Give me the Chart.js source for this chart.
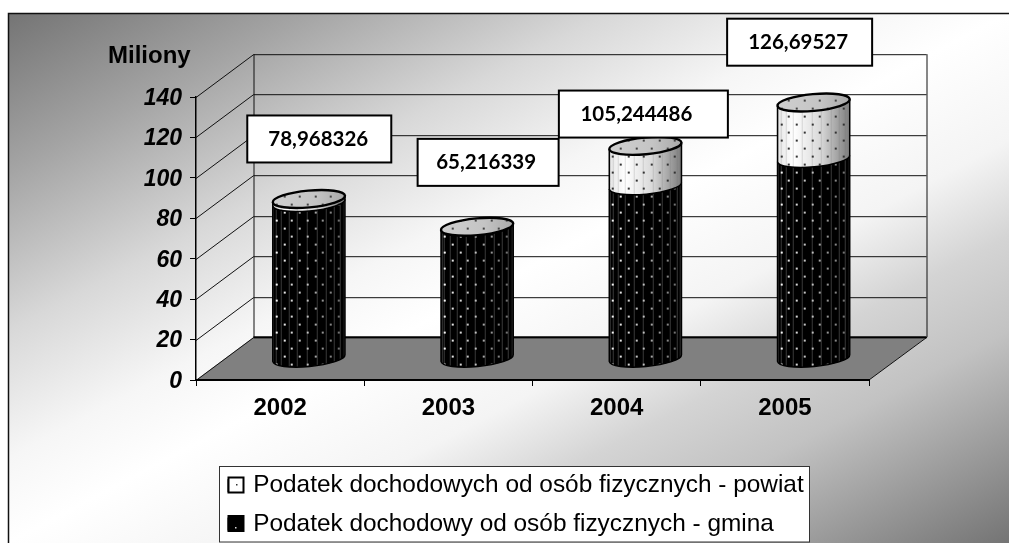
<!DOCTYPE html>
<html>
<head>
<meta charset="utf-8">
<style>html,body{margin:0;padding:0;background:#fff}canvas{display:block}</style>
<script src="https://cdn.jsdelivr.net/npm/chart.js@4"></script>
</head>
<body>
<canvas id="c" width="1009" height="543"></canvas>
<script>
const categories = ["2002", "2003", "2004", "2005"];
const gmina = [77.2, 65.216339, 85.5, 99.0];
const powiat = [1.768326, 0, 19.744486, 27.69527];
const totalLabels = ["78,968326", "65,216339", "105,244486", "126,69527"];
const seriesNames = ["Podatek dochodowy od osób fizycznych - gmina", "Podatek dochodowych od osób fizycznych - powiat"];
const axisUnit = "Miliony";

// layout of the hand-placed callouts: offset from the bar top, box width, text shift
const calloutLayout = [
  {dx: 10.4, dy: -60, w: 144, tx: -1},
  {dx: 11, dy: -64.4, w: 141, tx: -2},
  {dx: -2, dy: -31.8, w: 169, tx: -7},
  {dx: -14, dy: -60.3, w: 145, tx: -1.5}
];
const DEPTH = {x: 57.5, y: -42.8};
const TILT = -5.3 * Math.PI / 180;
const RY = 8.4;
const shift = {x: DEPTH.x / 2, y: DEPTH.y / 2};

function ends(cx, y, rx) {
  return {lx: cx - rx * Math.cos(TILT), ly: y - rx * Math.sin(TILT), rx: cx + rx * Math.cos(TILT), ry: y + rx * Math.sin(TILT)};
}
function bodyPath(ctx, cx, yTop, yBase, rx) {
  const t = ends(cx, yTop, rx);
  ctx.beginPath();
  ctx.moveTo(t.lx, t.ly);
  ctx.lineTo(t.rx, t.ry);
  ctx.ellipse(cx, yBase, rx, RY, TILT, 0, Math.PI, false);
  ctx.closePath();
}
function dots(ctx, cx, rx, y0, y1, color) {
  const left = cx - rx + 4;
  const first = Math.floor(y0 / 8) - 1, last = Math.ceil(y1 / 8) + 1;
  for (let r = first; r <= last; r++) {
    for (let k = (r % 2 === 0 ? 0 : 1); k * 7.75 < 2 * rx; k += 2) {
      const x = left + k * 7.75;
      ctx.fillStyle = color((x - cx + rx) / (2 * rx));
      ctx.fillRect(Math.round(x) - 1, r * 8 + 1, 2, 2);
    }
  }
}
function streaks(ctx, cx, rx, y0, y1, style) {
  ctx.lineWidth = 1;
  for (let th = 0.16; th < Math.PI; th += 0.27) {
    const x = Math.round(cx - rx * Math.cos(th)) + 0.5;
    ctx.strokeStyle = style;
    ctx.beginPath(); ctx.moveTo(x, y0); ctx.lineTo(x, y1); ctx.stroke();
  }
}
function paintSegment(ctx, el, dark) {
  const cx = el.x, rx = el.width / 2;
  ctx.save();
  bodyPath(ctx, cx, el.y, el.base, rx);
  ctx.save();
  ctx.clip();
  if (dark) {
    ctx.fillStyle = "#000";
  } else {
    const g = ctx.createLinearGradient(cx - rx, 0, cx + rx, 0);
    g.addColorStop(0, "#e4e4e4"); g.addColorStop(0.22, "#ffffff");
    g.addColorStop(0.6, "#d8d8d8"); g.addColorStop(1, "#7c7c7c");
    ctx.fillStyle = g;
  }
  ctx.fillRect(cx - rx - 2, el.y - 20, 2 * rx + 4, el.base - el.y + 50);
  streaks(ctx, cx, rx, el.y - 10, el.base + 12, dark ? "rgba(170,170,170,0.34)" : "rgba(110,110,110,0.22)");
  dots(ctx, cx, rx, el.y - 10, el.base + 12, dark
    ? f => "rgba(255,255,255," + (1 - 0.6 * f).toFixed(2) + ")"
    : () => "#333");
  ctx.restore();
  // outline: sides and lower rim
  const t = ends(cx, el.y, rx);
  ctx.strokeStyle = "#000";
  ctx.lineWidth = 1.5;
  ctx.beginPath();
  ctx.moveTo(t.rx, t.ry);
  ctx.ellipse(cx, el.base, rx, RY, TILT, 0, Math.PI, false);
  ctx.lineTo(t.lx, t.ly);
  ctx.stroke();
  ctx.restore();
}
function paintTop(ctx, el) {
  const cx = el.x, rx = el.width / 2;
  ctx.save();
  ctx.beginPath();
  ctx.ellipse(cx, el.y, rx, RY, TILT, 0, Math.PI * 2);
  const g = ctx.createLinearGradient(cx - rx, 0, cx + rx, 0);
  g.addColorStop(0, "#cfcfcf"); g.addColorStop(0.6, "#c4c4c4"); g.addColorStop(1, "#a8a8a8");
  ctx.fillStyle = g;
  ctx.fill();
  ctx.save(); ctx.clip();
  dots(ctx, cx, rx, el.y - 12, el.y + 12, () => "#444");
  ctx.restore();
  ctx.lineWidth = 2.4;
  ctx.strokeStyle = "#000";
  ctx.stroke();
  ctx.restore();
}

const scene = {
  id: "scene",
  afterLayout(chart) {
    const lg = chart.legend;
    lg.left = 214; lg.top = 459.5; lg.right = 809; lg.bottom = 700;
    chart.scales.y.getLabelItems(chart.chartArea).forEach(it => { it.options.translation[1] += 1.5; });
  },
  beforeDraw(chart) {
    const {ctx, chartArea: a, width: W, height: H, scales: {y}} = chart;
    ctx.save();
    // panel
    const fw = W - 8, fh = H - 13, k = 2 * fw * fh / (fw * fw + fh * fh);
    const g = ctx.createLinearGradient(8, 13, 8 + k * fh, 13 + k * fw);
    [[0, "#747474"], [0.15, "#a4a4a4"], [0.3, "#d8d8d8"], [0.42, "#f6f6f6"], [0.5, "#ffffff"],
     [0.62, "#f4f4f4"], [0.71, "#d4d4d4"], [0.8, "#c2c2c2"], [1, "#747474"]]
      .forEach(s => g.addColorStop(s[0], s[1]));
    ctx.fillStyle = g;
    ctx.fillRect(8, 13, fw, fh);
    ctx.strokeStyle = "#111"; ctx.lineWidth = 1.5;
    ctx.beginPath(); ctx.moveTo(8.5, H); ctx.lineTo(8.5, 13.5); ctx.lineTo(W, 13.5); ctx.stroke();
    // floor
    const y0 = y.getPixelForValue(0), d = DEPTH;
    ctx.fillStyle = "#808080";
    ctx.beginPath();
    ctx.moveTo(a.left, y0); ctx.lineTo(a.right, y0);
    ctx.lineTo(a.right + d.x, y0 + d.y); ctx.lineTo(a.left + d.x, y0 + d.y);
    ctx.closePath(); ctx.fill();
    // gridlines on side and back walls
    ctx.strokeStyle = "#111"; ctx.lineWidth = 1;
    y.ticks.forEach(t => {
      const p = Math.round(y.getPixelForValue(t.value)) + 0.5;
      ctx.beginPath();
      ctx.moveTo(a.left, p); ctx.lineTo(a.left + d.x, p + d.y); ctx.lineTo(a.right + d.x, p + d.y);
      ctx.stroke();
    });
    const back = a.left + d.x, top = y.getPixelForValue(140) + d.y;
    ctx.beginPath();
    ctx.moveTo(back + .5, top); ctx.lineTo(back + .5, y0 + d.y);
    ctx.moveTo(a.right + d.x + .5, top); ctx.lineTo(a.right + d.x + .5, y0 + d.y);
    ctx.lineTo(a.right, y0);
    ctx.stroke();
    ctx.lineWidth = 2;
    ctx.strokeStyle = "#000";
    ctx.beginPath(); ctx.moveTo(a.left + d.x, y0 + d.y); ctx.lineTo(a.right + d.x, y0 + d.y); ctx.stroke();
    // legend panel
    ctx.fillStyle = "#fff"; ctx.fillRect(219.5, 466.5, 590, 75.5);
    ctx.strokeStyle = "#333"; ctx.lineWidth = 1;
    ctx.strokeRect(219.5, 466.5, 590, 75.5);
    // unit
    ctx.fillStyle = "#000";
    ctx.font = "bold 24px 'Liberation Sans'";
    ctx.textAlign = "left"; ctx.textBaseline = "middle";
    ctx.fillText(axisUnit, 108, 56);
    ctx.restore();
  },
  beforeDatasetDraw(chart, args) {
    const ctx = chart.ctx, meta = args.meta;
    ctx.save();
    ctx.translate(shift.x, shift.y);
    ctx.beginPath();
    meta.data.forEach(el => {
      const rx = el.width / 2;
      if (el.base - el.y < 0.01) return;
      const t = ends(el.x, el.y, rx);
      ctx.moveTo(t.lx, t.ly); ctx.lineTo(t.rx, t.ry);
      ctx.ellipse(el.x, el.base, rx, RY, TILT, 0, Math.PI, false);
      ctx.closePath();
    });
    ctx.clip();
  },
  afterDatasetDraw(chart) { chart.ctx.restore(); },
  afterDatasetsDraw(chart) {
    const ctx = chart.ctx;
    const low = chart.getDatasetMeta(0), high = chart.getDatasetMeta(1);
    ctx.save();
    ctx.translate(shift.x, shift.y);
    categories.forEach((_, i) => {
      paintSegment(ctx, low.data[i], true);
      const h = high.data[i];
      const hasTop = powiat[i] > 0;
      if (hasTop) paintSegment(ctx, h, false);
      paintTop(ctx, hasTop ? h : low.data[i]);
    });
    ctx.restore();
    // callouts
    ctx.save();
    ctx.font = "bold 20.5px Lato";
    ctx.textAlign = "center"; ctx.textBaseline = "middle";
    categories.forEach((_, i) => {
      const top = powiat[i] > 0 ? high.data[i] : low.data[i];
      const b = calloutLayout[i];
      const cx = top.x + shift.x + b.dx, cy = top.y + shift.y + b.dy, h = 47;
      ctx.fillStyle = "#fff";
      ctx.fillRect(cx - b.w / 2, cy - h / 2, b.w, h);
      ctx.strokeStyle = "#000"; ctx.lineWidth = 2;
      ctx.strokeRect(cx - b.w / 2, cy - h / 2, b.w, h);
      ctx.fillStyle = "#000";
      ctx.fillText(totalLabels[i], cx + b.tx, cy);
    });
    ctx.restore();
  },
  afterDraw(chart) {
    // legend swatches with their single pattern dot
    const ctx = chart.ctx;
    ctx.save();
    ctx.lineWidth = 2; ctx.strokeStyle = "#000";
    ctx.fillStyle = "#fff";
    ctx.fillRect(228.5, 477.5, 15, 15); ctx.strokeRect(228.5, 477.5, 15, 15);
    ctx.fillStyle = "#000";
    ctx.fillRect(228.5, 516, 15, 15); ctx.strokeRect(228.5, 516, 15, 15);
    ctx.fillStyle = "#333"; ctx.fillRect(236, 484, 1.5, 1.5);
    ctx.fillStyle = "#ddd"; ctx.fillRect(235, 527, 1.5, 1.5);
    ctx.restore();
  }
};

new Chart(document.getElementById("c"), {
  type: "bar",
  data: {
    labels: categories,
    datasets: [
      {label: seriesNames[0], data: gmina, backgroundColor: "#000", borderColor: "#000", borderWidth: 1, clip: false},
      {label: seriesNames[1], data: powiat, backgroundColor: "#fff", borderColor: "#000", borderWidth: 1, clip: false}
    ]
  },
  plugins: [scene],
  options: {
    responsive: false,
    animation: false,
    events: [],
    barPercentage: 0.431,
    categoryPercentage: 1,
    layout: {padding: {top: 97, right: 140, left: 0, bottom: 0}},
    plugins: {
      tooltip: {enabled: false},
      title: {display: false},
      legend: {
        position: "chartArea",
        align: "start",
        reverse: true,
        labels: {
          color: "#000",
          font: {family: "'Liberation Sans'", size: 24.4},
          boxWidth: 13,
          boxHeight: 13,
          padding: 14
        }
      }
    },
    scales: {
      x: {
        stacked: true,
        afterFit(s) { s.height = 163; },
        border: {color: "#000", width: 2},
        grid: {drawOnChartArea: false, color: "#000", tickLength: 6, offset: true},
        ticks: {color: "#000", padding: 8, maxRotation: 0, font: {family: "'Liberation Sans'", size: 24, weight: "bold"}}
      },
      y: {
        stacked: true,
        min: 0,
        max: 140,
        afterFit(s) { s.width = 196; },
        border: {color: "#000", width: 1.5},
        grid: {drawOnChartArea: false, color: "#000", tickLength: 6},
        ticks: {stepSize: 20, color: "#000", padding: 8, font: {family: "'Liberation Sans'", size: 23, weight: "bold", style: "italic"}}
      }
    }
  }
});
</script>
</body>
</html>
